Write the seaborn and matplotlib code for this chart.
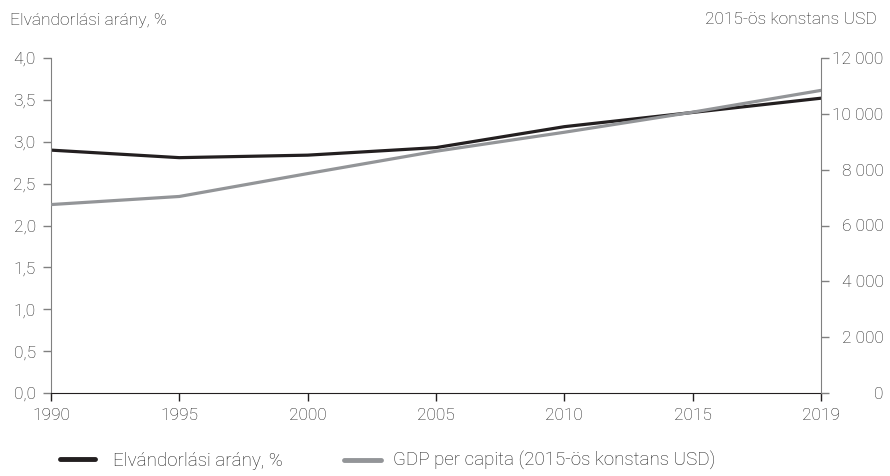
import matplotlib
matplotlib.use("Agg")
import matplotlib.pyplot as plt
from matplotlib.ticker import FuncFormatter, MultipleLocator
from matplotlib.lines import Line2D
import numpy as np
import pandas as pd
import seaborn as sns

# data
years = ["1990", "1995", "2000", "2005", "2010", "2015", "2019"]
emigration_rate = [2.90, 2.81, 2.84, 2.93, 3.18, 3.35, 3.52]
gdp_per_capita = [6750, 7040, 7860, 8660, 9340, 10060, 10840]

label_rate = "Elvándorlási arány, %"
label_gdp = "GDP per capita (2015-ös konstans USD)"

sns.set_style("white")
plt.rcParams["font.family"] = ["Roboto", "DejaVu Sans"]
plt.rcParams["font.weight"] = "light"

text_col = "#1e1e1e"
black = "#231f20"
gray = "#939598"

df = pd.DataFrame({"pos": np.arange(len(years)), "rate": emigration_rate, "gdp": gdp_per_capita})

fig = plt.figure(figsize=(8.9, 4.76), dpi=100)
ax = fig.add_axes([51 / 890, 1 - 393 / 476, 770 / 890, 335 / 476])
ax2 = ax.twinx()

sns.lineplot(data=df, x="pos", y="rate", ax=ax, color=black, lw=2.3)
sns.lineplot(data=df, x="pos", y="gdp", ax=ax2, color=gray, lw=2.3)

ax.set_xlim(0, len(years) - 1)
ax.set_ylim(0, 4)
ax2.set_ylim(0, 12000)
ax.set_xticks(df["pos"])
ax.set_xticklabels(years)
ax.yaxis.set_major_locator(MultipleLocator(0.5))
ax2.yaxis.set_major_locator(MultipleLocator(2000))
ax.yaxis.set_major_formatter(FuncFormatter(lambda v, p: f"{v:.1f}".replace(".", ",")))
ax2.yaxis.set_major_formatter(FuncFormatter(lambda v, p: f"{int(v):,}".replace(",", " ")))

for a in (ax, ax2):
    a.set_xlabel("")
    a.set_ylabel("")
    a.grid(False)
    for s in a.spines.values():
        s.set_visible(False)
ax.spines["left"].set_visible(True)
ax.spines["left"].set_color("#808080")
ax.spines["bottom"].set_visible(True)
ax.spines["bottom"].set_color(black)
ax2.spines["right"].set_visible(True)
ax2.spines["right"].set_color("#808080")

ax.tick_params(axis="y", direction="out", length=6, width=1, color="#808080",
               labelsize=12.5, labelcolor=text_col, pad=5, left=True)
ax.tick_params(axis="x", direction="out", length=6, width=1, color=black,
               labelsize=12.5, labelcolor=text_col, pad=5, bottom=True)
ax2.tick_params(axis="y", direction="out", length=6, width=1, color="#808080",
                labelsize=12.5, labelcolor=text_col, pad=39, right=True)
for t in ax2.get_yticklabels():
    t.set_horizontalalignment("right")

fig.text(10 / 890, 1 - 20 / 476, label_rate, ha="left", va="center",
         fontsize=12.5, color=text_col)
fig.text(877 / 890, 1 - 20 / 476, "2015-ös konstans USD", ha="right", va="center",
         fontsize=12.5, color=text_col)

leg1 = fig.legend([Line2D([0], [0], color=black, lw=3.5)], [label_rate],
                  loc="center left", bbox_to_anchor=(43 / 890, 1 - 461 / 476),
                  frameon=False, fontsize=13.5, labelcolor=text_col,
                  handlelength=1.85, handletextpad=1.0)
leg2 = fig.legend([Line2D([0], [0], color=gray, lw=3.5)], [label_gdp],
                  loc="center left", bbox_to_anchor=(327 / 890, 1 - 461 / 476),
                  frameon=False, fontsize=13.5, labelcolor=text_col,
                  handlelength=2.0, handletextpad=0.6)

fig.savefig("out.png", dpi=100)
